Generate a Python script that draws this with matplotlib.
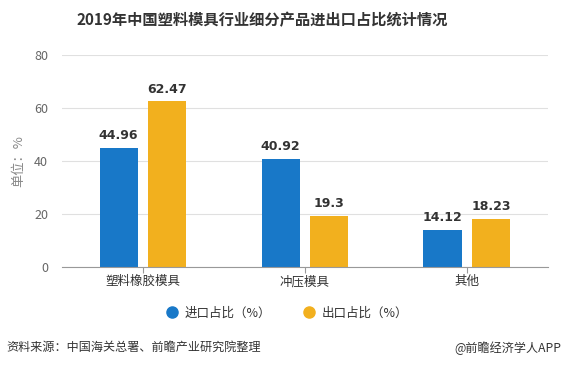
import numpy as np
import matplotlib.pyplot as plt
from matplotlib.lines import Line2D

plt.rcParams['font.family'] = ['Noto Sans CJK SC', 'DejaVu Sans']

categories = ['塑料橡胶模具', '冲压模具', '其他']
import_share = [44.96, 40.92, 14.12]
export_share = [62.47, 19.3, 18.23]
import_labels = ['44.96', '40.92', '14.12']
export_labels = ['62.47', '19.3', '18.23']
yticks = [0, 20, 40, 60, 80]

blue = '#1878c8'
yellow = '#f2b01e'

fig = plt.figure(figsize=(5.63, 3.68), dpi=100)
ax = fig.add_axes([0.110, 0.2745, 0.863, 0.576])

x = np.arange(len(categories))
w = 0.235
off = 0.15
b1 = ax.bar(x - off, import_share, w, color=blue)
b2 = ax.bar(x + off, export_share, w, color=yellow)

for bars, labels in ((b1, import_labels), (b2, export_labels)):
    for b, t in zip(bars, labels):
        ax.text(b.get_x() + b.get_width() / 2, b.get_height() + 2.2, t,
                ha='center', va='bottom', fontsize=9, fontweight='bold',
                color='#333333', family='DejaVu Sans')

ax.set_ylim(0, 80)
ax.set_xlim(-0.5, 2.5)
ax.set_yticks(yticks)
ax.set_xticks(x)
ax.set_xticklabels(categories, fontsize=9, color='#333333')
ax.tick_params(axis='y', length=0, labelsize=9, labelcolor='#666666', pad=10)
ax.tick_params(axis='x', length=4, color='#999999', pad=2)
ax.grid(axis='y', color='#e0e0e0', linewidth=0.8)
ax.set_axisbelow(True)
for s in ['top', 'right', 'left']:
    ax.spines[s].set_visible(False)
ax.spines['bottom'].set_color('#999999')
ax.set_ylabel('单位：%', fontsize=9.5, color='#888888', labelpad=6)

handles = [
    Line2D([], [], marker='o', linestyle='none', markersize=8,
           markerfacecolor=blue, markeredgecolor=blue, label='进口占比（%）'),
    Line2D([], [], marker='o', linestyle='none', markersize=8,
           markerfacecolor=yellow, markeredgecolor=yellow, label='出口占比（%）'),
]
leg = fig.legend(handles=handles, loc='center', bbox_to_anchor=(0.511, 0.149),
                 ncol=2, frameon=False, fontsize=9, handlelength=0.8,
                 columnspacing=2.6, handletextpad=0.6)
for txt in leg.get_texts():
    txt.set_color('#333333')

fig.text(0.466, 0.945, '2019年中国塑料模具行业细分产品进出口占比统计情况',
         ha='center', va='center', fontsize=11, fontweight='bold', color='#333333')
fig.text(0.012, 0.055, '资料来源：中国海关总署、前瞻产业研究院整理',
         ha='left', va='center', fontsize=8.7, color='#333333')
fig.text(0.998, 0.055, '@前瞻经济学人APP',
         ha='right', va='center', fontsize=8.7, color='#333333')

fig.savefig('out.png', dpi=100)
